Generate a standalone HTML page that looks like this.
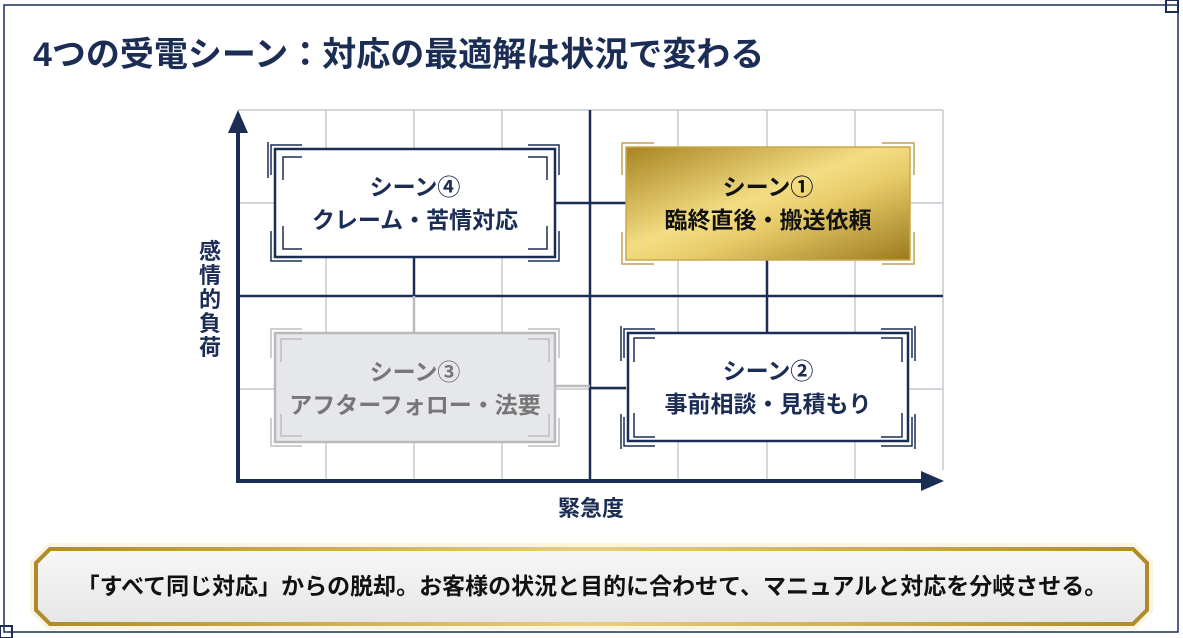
<!DOCTYPE html>
<html><head><meta charset="utf-8"><style>
html,body{margin:0;padding:0;background:#fff;}
body{width:1183px;height:638px;overflow:hidden;position:relative;font-family:"Liberation Sans","Noto Sans CJK JP",sans-serif;}
svg{position:absolute;left:0;top:0}
text{font-family:"Liberation Sans","Noto Sans CJK JP",sans-serif;font-weight:bold}
</style></head><body>
<svg width="1183" height="638" viewBox="0 0 1183 638">
<defs>
<linearGradient id="gold" x1="0" y1="0" x2="1" y2="1">
<stop offset="0" stop-color="#a88420"/><stop offset="0.45" stop-color="#f3dd84"/><stop offset="0.6" stop-color="#e8cc6a"/><stop offset="1" stop-color="#9c7a1c"/>
</linearGradient>
<linearGradient id="goldb" x1="0" y1="0" x2="1" y2="0">
<stop offset="0" stop-color="#b08a2a"/><stop offset="0.5" stop-color="#e6cf7e"/><stop offset="1" stop-color="#b08a2a"/>
</linearGradient>
<linearGradient id="banner" x1="0" y1="0" x2="0" y2="1">
<stop offset="0" stop-color="#f7f7f7"/><stop offset="1" stop-color="#e6e6e6"/>
</linearGradient>
</defs>
<rect x="4" y="5" width="1174" height="627" fill="none" stroke="#1b2d55" stroke-width="1.5"/>
<rect x="1166" y="0" width="12" height="12" fill="none" stroke="#1b2d55" stroke-width="2"/>
<rect x="0" y="626" width="12" height="12" fill="none" stroke="#1b2d55" stroke-width="2"/>
<text x="33" y="66" font-size="34" fill="#1b2d55">4つの受電シーン：対応の最適解は状況で変わる</text>
<g stroke="#b8bcc4" stroke-width="1.2">
<line x1="238" y1="110" x2="943" y2="110"/>
<line x1="238" y1="203" x2="943" y2="203"/>
<line x1="238" y1="389" x2="943" y2="389"/>
<line x1="326" y1="110" x2="326" y2="481"/>
<line x1="414" y1="110" x2="414" y2="481"/>
<line x1="502" y1="110" x2="502" y2="481"/>
<line x1="678" y1="110" x2="678" y2="481"/>
<line x1="767" y1="110" x2="767" y2="481"/>
<line x1="855" y1="110" x2="855" y2="481"/>
<line x1="943" y1="110" x2="943" y2="470"/>
</g>
<g stroke="#1b2d55" stroke-width="2.5">
<line x1="238" y1="296" x2="943" y2="296"/>
<line x1="590" y1="110" x2="590" y2="481"/>
<line x1="555" y1="203" x2="626" y2="203"/>
<line x1="414" y1="257" x2="414" y2="296"/>
<line x1="767" y1="260" x2="767" y2="333"/>
<line x1="590" y1="388" x2="626" y2="388"/>
</g>
<line x1="555" y1="386" x2="590" y2="386" stroke="#bbb" stroke-width="2.5"/>
<line x1="414" y1="296" x2="414" y2="333" stroke="#bbb" stroke-width="2.5"/>
<g stroke="#1b2d55" stroke-width="4" fill="#1b2d55">
<line x1="238" y1="483" x2="238" y2="128"/>
<line x1="236" y1="481" x2="926" y2="481"/>
</g>
<polygon points="238,110 228,133 248,133" fill="#1b2d55"/>
<polygon points="944,481 921,471 921,491" fill="#1b2d55"/>
<text font-size="22" fill="#1b2d55" text-anchor="middle"><tspan x="210" y="259">感</tspan><tspan x="210" y="283">情</tspan><tspan x="210" y="307">的</tspan><tspan x="210" y="331">負</tspan><tspan x="210" y="355">荷</tspan></text>
<text x="591" y="516" font-size="22" fill="#1b2d55" text-anchor="middle">緊急度</text>

<g>
<rect x="275" y="149" width="280" height="108" fill="#fff" stroke="#1b2d55" stroke-width="2.5"/>
<g fill="none" stroke="#1b2d55" stroke-width="1.5">
<path d="M271,175 V145 H302 M268,178 V142"/><path d="M283,180 V157 H302"/>
<path d="M559,175 V145 H528"/><path d="M547,180 V157 H528"/>
<path d="M271,231 V261 H302"/><path d="M283,226 V249 H302"/>
<path d="M559,231 V261 H528"/><path d="M547,226 V249 H528"/>
</g>
<text x="415" y="195" font-size="23" fill="#1b2d55" text-anchor="middle">シーン④</text>
<text x="415" y="228" font-size="23" fill="#1b2d55" text-anchor="middle">クレーム・苦情対応</text>
</g>
<g>
<rect x="626" y="147" width="284" height="113" fill="url(#gold)" stroke="#c9a84a" stroke-width="1.5"/>
<g fill="none" stroke="#c2a14a" stroke-width="1.5">
<path d="M622,175 V143 H654"/><path d="M914,175 V143 H882"/>
<path d="M622,232 V264 H654"/><path d="M914,232 V264 H882"/>
</g>
<text x="768" y="195" font-size="23" fill="#111" text-anchor="middle">シーン①</text>
<text x="768" y="228" font-size="23" fill="#111" text-anchor="middle">臨終直後・搬送依頼</text>
</g>
<g>
<rect x="275" y="333" width="280" height="109" fill="#e6e7ea" stroke="#b9b9b9" stroke-width="2.5"/>
<g fill="none" stroke="#bdbdbd" stroke-width="1.5">
<path d="M271,358 V329 H302"/><path d="M281,362 V339 H302"/>
<path d="M559,358 V329 H528"/><path d="M549,362 V339 H528"/>
<path d="M271,418 V446 H302"/><path d="M281,414 V436 H302"/>
<path d="M559,418 V446 H528"/><path d="M549,414 V436 H528"/>
</g>
<text x="415" y="380" font-size="23" fill="#777" text-anchor="middle">シーン③</text>
<text x="415" y="413" font-size="23" fill="#777" text-anchor="middle">アフターフォロー・法要</text>
</g>
<g>
<rect x="628" y="333" width="280" height="108" fill="#fff" stroke="#1b2d55" stroke-width="2.5"/>
<g fill="none" stroke="#1b2d55" stroke-width="1.5">
<path d="M624,358 V329 H655 M621,361 V326"/><path d="M634,362 V338 H655"/>
<path d="M912,358 V329 H881 M915,361 V326"/><path d="M902,362 V338 H881"/>
<path d="M624,417 V446 H655 M621,414 V449"/><path d="M634,413 V437 H655"/>
<path d="M912,417 V446 H881 M915,414 V449"/><path d="M902,413 V437 H881"/>
</g>
<text x="768" y="379" font-size="23" fill="#1b2d55" text-anchor="middle">シーン②</text>
<text x="768" y="412" font-size="23" fill="#1b2d55" text-anchor="middle">事前相談・見積もり</text>
</g>
<polygon points="50,548 1133,548 1148,563 1148,610 1133,625 50,625 35,610 35,563" fill="#f4e9c0" stroke="#f6efd0" stroke-width="10" opacity="0.6"/>
<polygon points="50,549 1133,549 1147,563 1147,610 1133,624 50,624 36,610 36,563" fill="url(#banner)" stroke="url(#goldb)" stroke-width="4"/>
<text x="592" y="594" font-size="23" fill="#111" text-anchor="middle">「すべて同じ対応」からの脱却。お客様の状況と目的に合わせて、マニュアルと対応を分岐させる。</text>
</svg>
</body></html>
